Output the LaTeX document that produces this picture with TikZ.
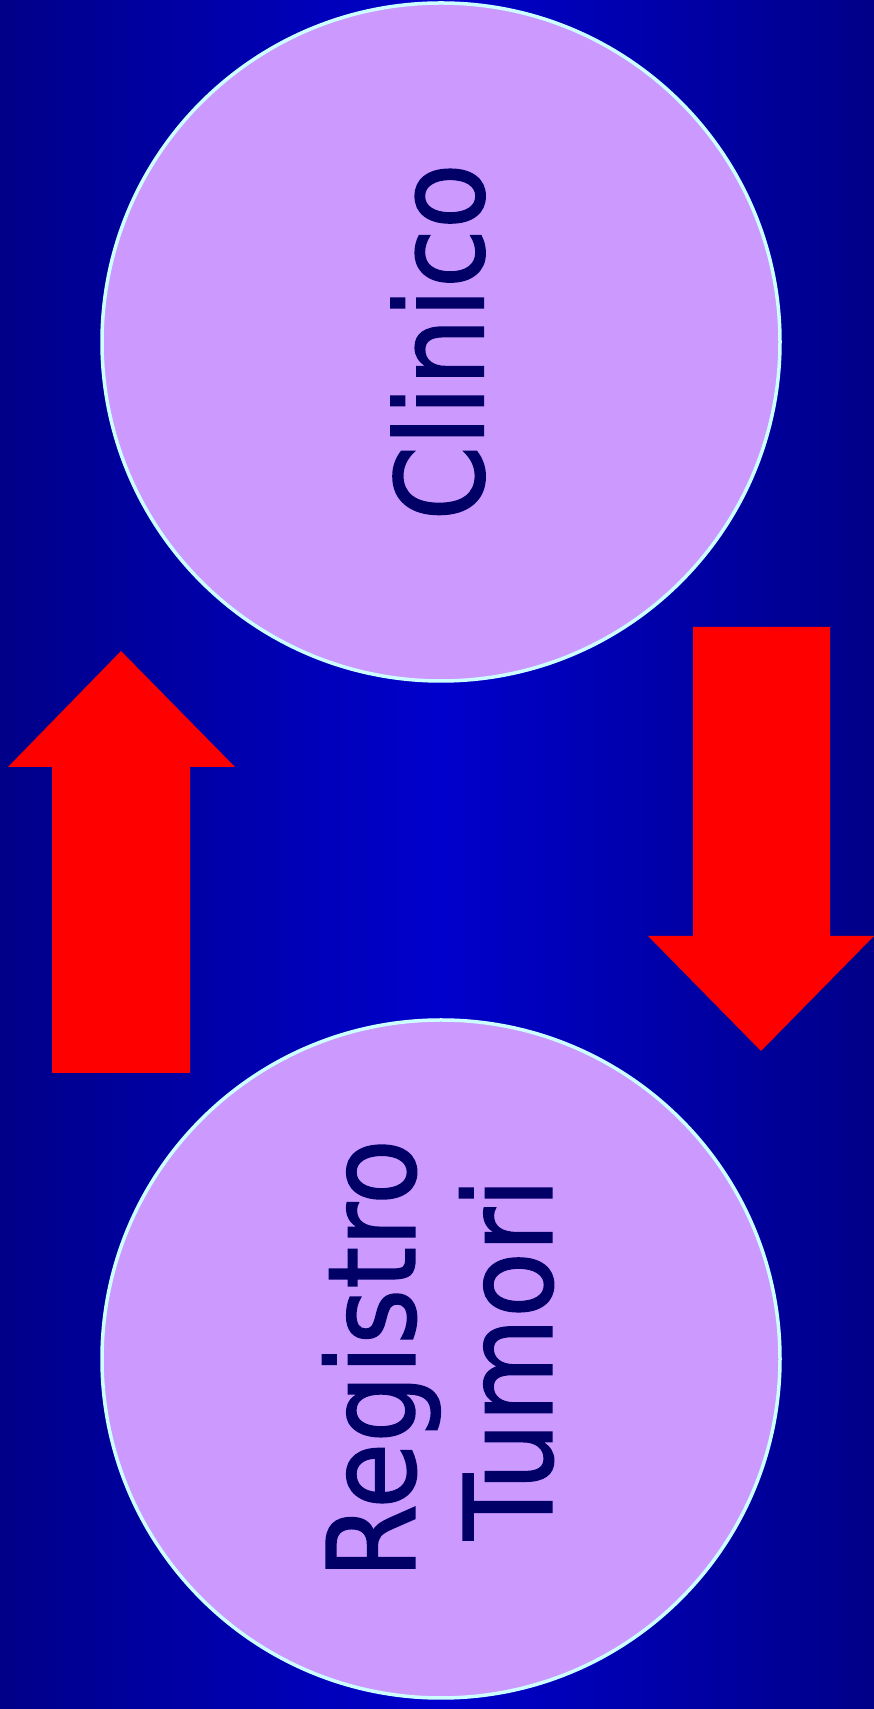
\documentclass[tikz,border=0pt]{standalone}
\usepackage{fontspec}
\newfontfamily\bubblefont[FakeStretch=0.88,FakeBold=1.2]{DejaVu Sans}
\definecolor{bgedge}{HTML}{000088}
\definecolor{bgmid}{HTML}{0000CC}
\definecolor{bubblefill}{HTML}{CC99FF}
\definecolor{bubbleline}{HTML}{CCFFFF}
\definecolor{bubbletext}{HTML}{000066}
\tikzset{
  bubble/.style={circle, fill=bubblefill, draw=bubbleline, line width=3.5pt,
    minimum size=678pt, inner sep=0pt, align=center, text=bubbletext,
    font=\bubblefont\fontsize{122}{137}\selectfont},
  blockarrow/.style={fill=red}
}
\begin{document}
\begin{tikzpicture}[x=1pt, y=1pt]
    % Background
    \shade[left color=bgedge, right color=bgedge, middle color=bgmid] (0,0) rectangle (874,1709);
    \useasboundingbox (0,0) rectangle (874,1709);

    % Circles
    \node[bubble] (clinico) at (441,1367) {};
    \node[rotate=90, bubble, draw=none, fill=none, minimum size=0pt] (clinicolabel) at ([xshift=-3pt]clinico) {Clinico};
    \node[bubble] (registro) at (441,350) {};
    \node[rotate=90, bubble, draw=none, fill=none, minimum size=0pt] (registrolabel) at ([xshift=-3pt]registro) {Registro\\Tumori};

    % Block arrows
    \fill[blockarrow] (52,636) -- (190,636) -- (190,942) -- (235,942) -- (121,1058) -- (8,942) -- (52,942) -- cycle;
    \fill[blockarrow] (693,1082) -- (830,1082) -- (830,773) -- (874,773) -- (761,658) -- (648,773) -- (693,773) -- cycle;
  \end{tikzpicture}
\end{document}
